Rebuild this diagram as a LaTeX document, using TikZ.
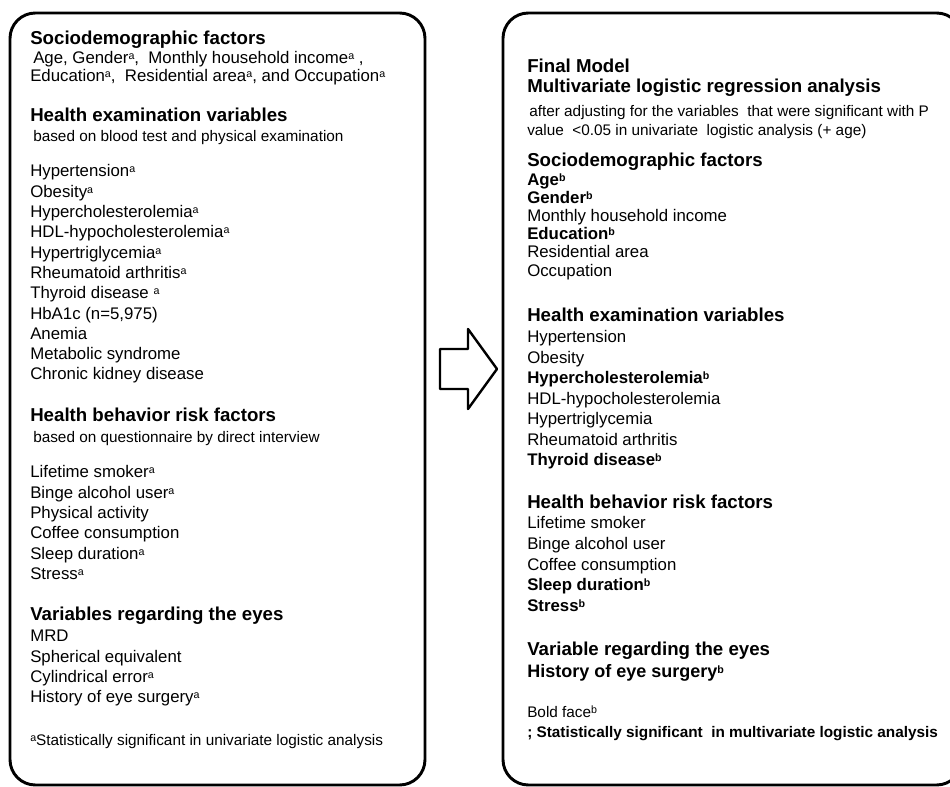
\documentclass[tikz,border=0pt]{standalone}
\usepackage{fontspec}
\setmainfont{Liberation Sans}
\newcommand{\supa}{\raisebox{3pt}{\fontsize{8}{8}\selectfont a}}
\newcommand{\supb}{\raisebox{3pt}{\fontsize{8}{8}\selectfont b}}
\tikzset{
  panel/.style={line width=2.2pt,rounded corners=19pt},
  head/.style={anchor=base west,inner sep=0pt,font=\fontsize{14}{16}\selectfont\bfseries},
  entry/.style={anchor=base west,inner sep=0pt,font=\fontsize{12.6}{14}\selectfont},
  bentry/.style={entry,font=\fontsize{12.6}{14}\selectfont\bfseries},
  note/.style={anchor=base west,inner sep=0pt,font=\fontsize{11.5}{13}\selectfont},
}
\begin{document}
\begin{tikzpicture}[x=0.75pt,y=-0.75pt,line join=round]
	\useasboundingbox (0,0) rectangle (950,787);
	
	\draw[panel] (10,13) rectangle (425,785);
	\draw[panel] (503,13) rectangle (962,785);
	
	% block arrow between the panels
	\draw[line width=1.8pt] (440,349)--(468,349)--(468,329)--(497,369)--(468,409)--(468,389)--(440,389)--cycle;
	
	% univariate panel
	\node[head] (sdL) at (30,45) {Sociodemographic factors};
	\node[entry] (sdL1) at (33,63.5) {Age, Gender\supa,\ \ Monthly household income\supa\ ,};
	\node[entry] (sdL2) at (30,82) {Education\supa,\ \ Residential area\supa, and Occupation\supa};
	
	\node[head] (heL) at (30,122) {Health examination variables};
	\node[note] (heLn) at (33,142) {based on blood test and physical examination};
	\foreach \t [count=\i from 0] in {Hypertension\supa,Obesity\supa,Hypercholesterolemia\supa,HDL-hypocholesterolemia\supa,Hypertriglycemia\supa,Rheumatoid arthritis\supa,Thyroid disease \supa,{HbA1c (n=5,975)},Anemia,Metabolic syndrome,Chronic kidney disease}
		\node[entry] (heL\i) at (30,{177+20.3*\i}) {\t};
	
	\node[head] (hbL) at (30,422) {Health behavior risk factors};
	\node[note] (hbLn) at (33,443) {based on questionnaire by direct interview};
	\foreach \t [count=\i from 0] in {Lifetime smoker\supa,Binge alcohol user\supa,Physical activity,Coffee consumption,Sleep duration\supa,Stress\supa}
		\node[entry] (hbL\i) at (30,{478+20.3*\i}) {\t};
	
	\node[head] (eyL) at (30,621) {Variables regarding the eyes};
	\foreach \t [count=\i from 0] in {MRD,Spherical equivalent,Cylindrical error\supa,History of eye surgery\supa}
		\node[entry] (eyL\i) at (30,{642+20.3*\i}) {\t};
	
	\node[note] (fnL) at (30,745) {\supa Statistically significant in univariate logistic analysis};
	
	% final model panel
	\node[head] (fmR) at (527,73) {Final Model};
	\node[head] (mvR) at (527,93) {Multivariate logistic regression analysis};
	\node[note] (mvR1) at (529,117) {after adjusting for the variables\ \ that were significant with P};
	\node[note] (mvR2) at (527,136) {value\ \ <0.05 in univariate\ \ logistic analysis (+ age)};
	
	\node[head] (sdR) at (527,167) {Sociodemographic factors};
	\node[bentry] (sdR0) at (527,186) {Age\supb};
	\node[bentry] (sdR1) at (527,204) {Gender\supb};
	\node[entry] (sdR2) at (527,222) {Monthly household income};
	\node[bentry] (sdR3) at (527,240) {Education\supb};
	\node[entry] (sdR4) at (527,258) {Residential area};
	\node[entry] (sdR5) at (527,277) {Occupation};
	
	\node[head] (heR) at (527,322) {Health examination variables};
	\node[entry] (heR0) at (527,343) {Hypertension};
	\node[entry] (heR1) at (527,363.5) {Obesity};
	\node[bentry] (heR2) at (527,384) {Hypercholesterolemia\supb};
	\node[entry] (heR3) at (527,404.5) {HDL-hypocholesterolemia};
	\node[entry] (heR4) at (527,425) {Hypertriglycemia};
	\node[entry] (heR5) at (527,445.5) {Rheumatoid arthritis};
	\node[bentry] (heR6) at (527,466) {Thyroid disease\supb};
	
	\node[head] (hbR) at (527,509) {Health behavior risk factors};
	\node[entry] (hbR0) at (527,529) {Lifetime smoker};
	\node[entry] (hbR1) at (527,549.6) {Binge alcohol user};
	\node[entry] (hbR2) at (527,570.2) {Coffee consumption};
	\node[bentry] (hbR3) at (527,590.8) {Sleep duration\supb};
	\node[bentry] (hbR4) at (527,611.4) {Stress\supb};
	
	\node[head] (eyR) at (527,656) {Variable regarding the eyes};
	\node[bentry,font=\fontsize{13.5}{15}\selectfont\bfseries] (eyR0) at (527,677) {History of eye surgery\supb};
	
	\node[note] (fnR1) at (527,717) {Bold face\supb};
	\node[note,font=\fontsize{11.5}{13}\selectfont\bfseries] (fnR2) at (527,737) {; Statistically significant\ \ in multivariate logistic analysis};
	
\end{tikzpicture}
\end{document}
